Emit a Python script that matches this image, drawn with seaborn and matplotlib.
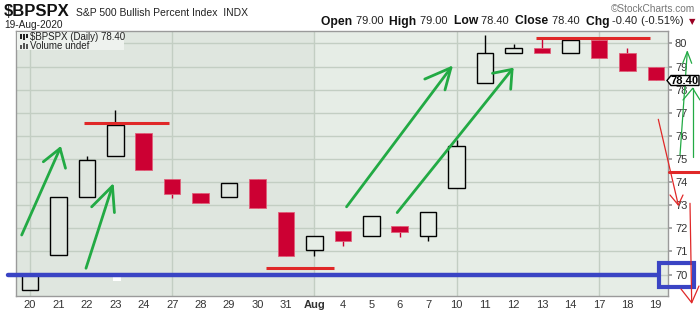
import matplotlib
matplotlib.use("Agg")
import matplotlib.pyplot as plt
import matplotlib.transforms as mtransforms
from matplotlib.patches import Rectangle, Polygon
import seaborn as sns
import numpy as np

# ---------------- data ----------------
day_labels = ["20", "21", "22", "23", "24", "27", "28", "29", "30", "31", "Aug",
              "4", "5", "6", "7", "10", "11", "12", "13", "14", "17", "18", "19"]
open_v = [69.35, 70.83, 73.34, 75.12, 76.11, 74.13, 73.53, 73.34, 74.13, 72.71, 71.05,
          71.88, 71.65, 72.09, 71.65, 73.73, 78.28, 79.58, 79.79, 79.58, 80.15, 79.58, 79.00]
close_v = [70.00, 73.34, 74.94, 76.47, 74.54, 73.50, 73.11, 73.95, 72.89, 70.81, 71.65,
           71.46, 72.52, 71.85, 72.69, 75.55, 79.58, 79.79, 79.58, 80.15, 79.39, 78.82, 78.40]
high_v = [70.00, 73.34, 75.13, 77.12, 76.11, 74.13, 73.53, 73.95, 74.13, 72.71, 71.65,
          71.88, 72.52, 72.09, 72.69, 75.82, 80.37, 79.98, 80.30, 80.15, 80.15, 79.79, 79.00]
low_v = [69.35, 70.83, 73.34, 75.12, 74.54, 73.32, 73.11, 73.34, 72.89, 70.81, 70.81,
         71.25, 71.65, 71.64, 71.46, 73.73, 78.28, 79.58, 79.58, 79.58, 79.39, 78.82, 78.40]
y_ticks = [70, 71, 72, 73, 74, 75, 76, 77, 78, 79, 80]
week_starts = [0, 5, 10, 15, 20]
last_close = 78.40

W, H = 700, 312
sns.set_theme(style="white")
plt.rcParams['font.family'] = ['Liberation Sans', 'DejaVu Sans']

fig = plt.figure(figsize=(W / 100, H / 100), dpi=100)
fig.patch.set_facecolor("white")
PX = mtransforms.Affine2D().scale(1 / W, -1 / H).translate(0, 1) + fig.transFigure

ax = fig.add_axes([16 / W, (H - 296) / H, (668 - 16) / W, (296 - 31) / H])
ax.set_facecolor("#e6ede6")
ax.set_xlim(-0.49, 22.43)
ax.set_ylim(69.07, 80.54)
ax.axvspan(-0.49, 9.98, color="#dfe6df", zorder=0, lw=0)

for t in y_ticks:
    ax.axhline(t, color="#c3cec3", lw=1, zorder=1)
for w in week_starts:
    ax.axvline(w, color="#c3cec3", lw=1, zorder=1)

red = "#cc0033"
idx = np.arange(len(day_labels))
for i in idx:
    o, c, h, l = open_v[i], close_v[i], high_v[i], low_v[i]
    up = c >= o
    col = "black" if up else red
    ax.vlines(i, l, h, color=col, lw=1, zorder=3)
    bottom = min(o, c)
    height = abs(c - o)
    if up:
        ax.add_patch(Rectangle((i - 0.29, bottom), 0.58, height,
                               facecolor="#e6ede6" if i >= 10 else "#dfe6df",
                               edgecolor="black", lw=1, zorder=4))
    else:
        ax.add_patch(Rectangle((i - 0.29, bottom), 0.58, height, facecolor=red,
                               edgecolor="#e0607a", lw=0.6, zorder=4))

for s in ax.spines.values():
    s.set_color("#9a9a9a")
    s.set_linewidth(1)

ax.yaxis.tick_right()
ax.set_yticks(y_ticks)
ax.set_yticklabels([str(t) for t in y_ticks], fontsize=8, color="#333333")
ax.tick_params(axis="y", length=3, color="#9a9a9a", pad=2)
ax.set_xticks(idx)
ax.set_xticklabels(day_labels, fontsize=8, color="#333333")
ax.tick_params(axis="x", length=2, color="#9a9a9a", pad=1)
for lab in ax.get_xticklabels():
    if lab.get_text() == "Aug":
        lab.set_fontweight("bold")
        lab.set_fontsize(8)

# ---------------- annotations (hand drawn) ----------------
green = "#22aa44"
redline = "#e02828"
ax.plot([1.90, 4.89], [76.55, 76.55], color=redline, lw=2.2, zorder=6, solid_capstyle="butt")
ax.plot([8.31, 10.69], [70.27, 70.27], color=redline, lw=2.2, zorder=6, solid_capstyle="butt")
ax.plot([17.78, 21.79], [80.22, 80.22], color=redline, lw=2.2, zorder=6, solid_capstyle="butt")

arrows = [
    ((-0.29, 71.71), (1.06, 75.46), (0.47, 74.88), (1.25, 74.60)),
    ((1.97, 70.27), (2.90, 73.83), (2.17, 72.93), (2.97, 72.68)),
    ((11.13, 72.93), (14.80, 78.95), (13.88, 78.46), (14.59, 77.99)),
    ((12.91, 72.68), (16.95, 78.88), (16.26, 78.71), (16.90, 78.02)),
]
for s, t, h1, h2 in arrows:
    ax.plot([s[0], t[0]], [s[1], t[1]], color=green, lw=2, zorder=7, clip_on=False)
    ax.plot([h1[0], t[0], h2[0]], [h1[1], t[1], h2[1]], color=green, lw=2, zorder=7, clip_on=False)

ax.add_patch(Rectangle((2.93, 69.7), 0.28, 0.25, facecolor="white", edgecolor="none", zorder=5))

# blue support line + box (pixel coords)
fig.add_artist(plt.Line2D([8, 658], [275.3, 275.3], transform=PX, color="#3a44c4", lw=3.2,
                          solid_capstyle="round", zorder=10))
fig.add_artist(Rectangle((659, 262.5), 35, 24, transform=PX, fill=False, edgecolor="#3a44c4",
                         lw=3, zorder=10))

def pxline(xs, ys, color, lw):
    fig.add_artist(plt.Line2D(xs, ys, transform=PX, color=color, lw=lw, zorder=11))

pxline([669, 700], [172.3, 172.3], redline, 2.2)
pxline([680, 687.3], [155, 51.7], green, 0.9)
pxline([682.7, 687.3, 691.7], [63.3, 51.7, 63.3], green, 0.9)
pxline([692.7, 692.7], [156.7, 88.3], green, 0.9)
pxline([683, 692.7, 700], [100, 88.3, 100], green, 0.9)
pxline([658.3, 678.3], [119.3, 205], redline, 0.9)
pxline([670, 678.3, 683], [195, 205, 195], redline, 0.9)
pxline([690, 691.7], [203.3, 302.7], redline, 0.9)
pxline([681, 691.7, 699], [289, 302.7, 286], redline, 0.9)

# last-price tag
tag_y = 80.5
fig.add_artist(Polygon([[667, tag_y], [671, tag_y - 5], [699, tag_y - 5], [699, tag_y + 5], [671, tag_y + 5]],
                       closed=True, transform=PX, facecolor="white", edgecolor="black", lw=1, zorder=12))
fig.text(685, tag_y, f"{last_close:.2f}", transform=PX, ha="center", va="center", fontsize=8,
         fontweight="bold", color="black", zorder=13)

# legend box in plot
fig.add_artist(Rectangle((17, 32), 107, 18, transform=PX, facecolor="#eef2ee", edgecolor="none", zorder=8))
fig.text(30, 37, "$BPSPX (Daily) 78.40", transform=PX, fontsize=7, va="center", color="#222222", zorder=9)
fig.text(30, 46, "Volume undef", transform=PX, fontsize=7, va="center", color="#222222", zorder=9)
for x0, hh in [(20, 5), (23, 6), (26, 4)]:
    fig.add_artist(Rectangle((x0, 34), 2, hh, transform=PX, facecolor="#222222", edgecolor="none", zorder=9))
for x0, hh in [(20, 4), (23, 6), (26, 5)]:
    fig.add_artist(Rectangle((x0, 49 - hh), 2, hh, transform=PX, facecolor="#555555", edgecolor="none", zorder=9))

# ---------------- header ----------------
fig.text(4, 12, "$BPSPX", transform=PX, fontsize=12, fontweight="bold", va="center", color="#111111")
fig.text(76, 12.5, "S&P 500 Bullish Percent Index  INDX", transform=PX, fontsize=7.5, va="center",
         color="#222222")
fig.text(4, 24.5, "19-Aug-2020", transform=PX, fontsize=7.3, va="center", color="#222222")
fig.text(695, 9.5, "©StockCharts.com", transform=PX, fontsize=7.3, va="center", ha="right", color="#777777")

parts = [("▼", False, "#990022"), ("(-0.51%) ", False, "#222222"), ("-0.40 ", False, "#222222"),
         ("Chg ", True, "#111111"), ("78.40  ", False, "#222222"), ("Close ", True, "#111111"),
         ("78.40  ", False, "#222222"), ("Low ", True, "#111111"), ("79.00  ", False, "#222222"),
         ("High ", True, "#111111"), ("79.00  ", False, "#222222"), ("Open ", True, "#111111")]
renderer = fig.canvas.get_renderer()
xr = 695
for txt, bold, col in parts:
    fs = 6 if txt == "▼" else (8.7 if bold else 8)
    t = fig.text(xr, 21.5, txt, transform=PX, fontsize=fs, fontweight="bold" if bold else "normal",
                 ha="right", va="center", color=col,
                 family=['DejaVu Sans'] if txt == "▼" else ['Liberation Sans', 'DejaVu Sans'])
    bb = t.get_window_extent(renderer=renderer)
    xr -= bb.width + (2 if txt == "▼" else 0)

fig.savefig("out.png", dpi=100, facecolor="white")
